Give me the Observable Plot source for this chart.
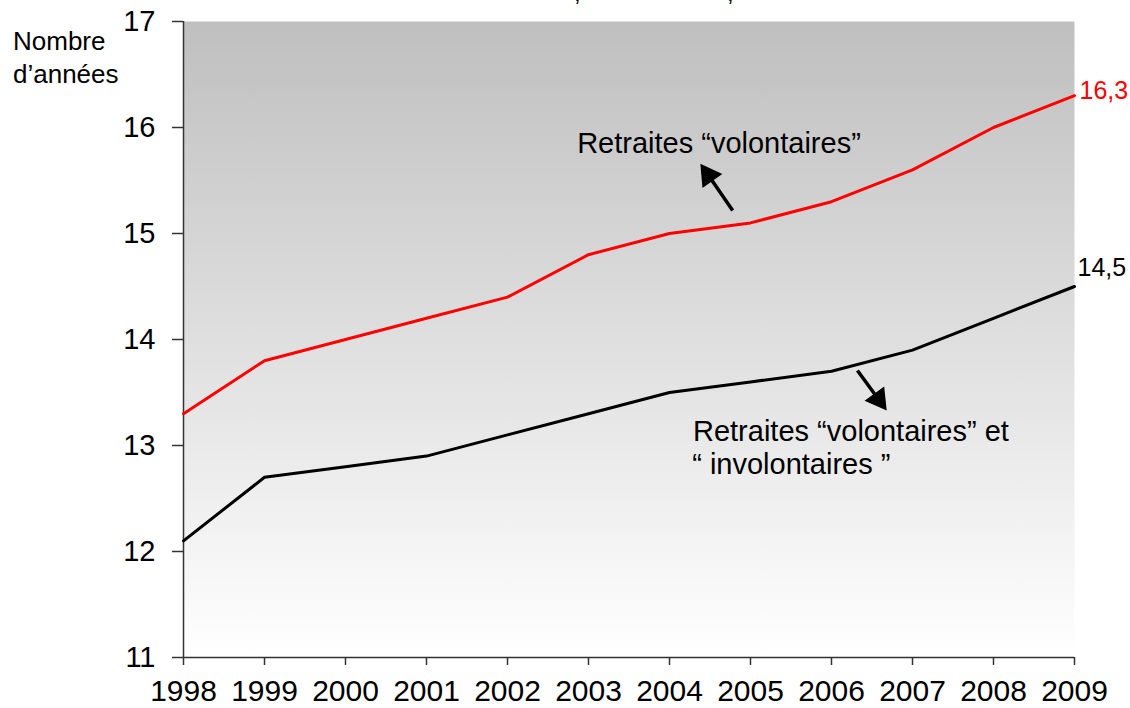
<!DOCTYPE html>
<html>
<head>
<meta charset="utf-8">
<script src="https://cdn.jsdelivr.net/npm/d3@7"></script>
<script src="https://cdn.jsdelivr.net/npm/@observablehq/plot@0.6"></script>
<style>
  body { margin: 0; background: #fff; overflow: hidden; }
  #wrap { position: relative; width: 1130px; height: 708px; overflow: hidden; font-family: "Liberation Sans", Arial, sans-serif; }
  #ylabel { position: absolute; left: 13px; top: 25px; font-size: 26px; line-height: 33px; color: #000; }
  .cut { position: absolute; top: -19px; font-size: 24px; line-height: 24px; color: #000; }
  svg { overflow: visible; }
</style>
</head>
<body>
<div id="wrap">
  <span class="cut" style="left:574px">,</span>
  <span class="cut" style="left:727px">,</span>
  <div id="ylabel">Nombre<br>d’années</div>
</div>
<script>
const years = [1998, 1999, 2000, 2001, 2002, 2003, 2004, 2005, 2006, 2007, 2008, 2009];
const volontaires = [13.3, 13.8, 14.0, 14.2, 14.4, 14.8, 15.0, 15.1, 15.3, 15.6, 16.0, 16.3];
const volEtInvol = [12.1, 12.7, 12.8, 12.9, 13.1, 13.3, 13.5, 13.6, 13.7, 13.9, 14.2, 14.5];
const yTicks = [11, 12, 13, 14, 15, 16, 17];
const seriesNames = ["Retraites “volontaires”", "Retraites “volontaires” et “ involontaires ”"];
const endLabels = ["16,3", "14,5"];

// annotation anchors (data coordinates)
const annot = [
  {x: 2002.86, y: 15.85, text: "Retraites “volontaires”"},
  {x: 2004.29, y: 13.127, text: "Retraites “volontaires” et"},
  {x: 2004.28, y: 12.816, text: "“ involontaires ”"}
];
const arrows = [
  {x1: 2004.78, y1: 15.217, x2: 2004.48, y2: 15.55, rot: -35},
  {x1: 2006.32, y1: 13.708, x2: 2006.58, y2: 13.437, rot: 144}
];

const rows = [];
years.forEach((yr, i) => {
  rows.push({year: yr, value: volontaires[i], s: seriesNames[0]});
  rows.push({year: yr, value: volEtInvol[i], s: seriesNames[1]});
});
const color = {[seriesNames[0]]: "#ff0000", [seriesNames[1]]: "#000000"};

const font = "'Liberation Sans', Arial, sans-serif";

const chart = Plot.plot({
  width: 1130,
  height: 708,
  marginLeft: 183,
  marginRight: 56,
  marginTop: 21,
  marginBottom: 51,
  style: {fontFamily: font, background: "transparent", overflow: "visible"},
  x: {domain: [1998, 2009], axis: null},
  y: {domain: [11, 17], axis: null},
  marks: [
    Plot.frame({fill: "url(#bggrad)", stroke: null}),
    Plot.axisY({ticks: yTicks, tickSize: 11, tickPadding: 17, fontSize: 29, tickFormat: d => String(d), stroke: "#333", color: "#000", strokeWidth: 1.5}),
    Plot.axisX({ticks: years, tickSize: 8, tickPadding: 14, fontSize: 30, tickFormat: d => String(d), stroke: "#333", color: "#000", strokeWidth: 1.5}),
    Plot.ruleX([1998], {y1: 11, y2: 17, stroke: "#333", strokeWidth: 1.5}),
    Plot.ruleY([11], {stroke: "#333", strokeWidth: 1.5}),
    Plot.line(rows, {x: "year", y: "value", z: "s", stroke: d => color[d.s], strokeWidth: 3}),
    Plot.text([{x: years[11], y: volontaires[11], t: endLabels[0]}], {x: "x", y: "y", text: "t", textAnchor: "start", dx: 5, dy: -5, fontSize: 25, fill: "#ff0000"}),
    Plot.text([{x: years[11], y: volEtInvol[11], t: endLabels[1]}], {x: "x", y: "y", text: "t", textAnchor: "start", dx: 3, dy: -19, fontSize: 25, fill: "#000"}),
    Plot.text(annot, {x: "x", y: "y", text: "text", textAnchor: "start", fontSize: 29, fill: "#000"}),
    Plot.link(arrows, {x1: "x1", y1: "y1", x2: "x2", y2: "y2", stroke: "#000", strokeWidth: 3.5}),
    Plot.dot(arrows, {x: "x2", y: "y2", symbol: "triangle", r: 9, fill: "#000", stroke: null, rotate: "rot"})
  ]
});

const ns = "http://www.w3.org/2000/svg";
const defs = document.createElementNS(ns, "defs");
defs.innerHTML = '<linearGradient id="bggrad" x1="0" y1="0" x2="0" y2="1"><stop offset="0" stop-color="#bfbfbf"/><stop offset="1" stop-color="#ffffff"/></linearGradient>';
chart.insertBefore(defs, chart.firstChild);
chart.style.position = "absolute";
chart.style.left = "0";
chart.style.top = "0";
document.getElementById("wrap").appendChild(chart);
</script>
</body>
</html>
